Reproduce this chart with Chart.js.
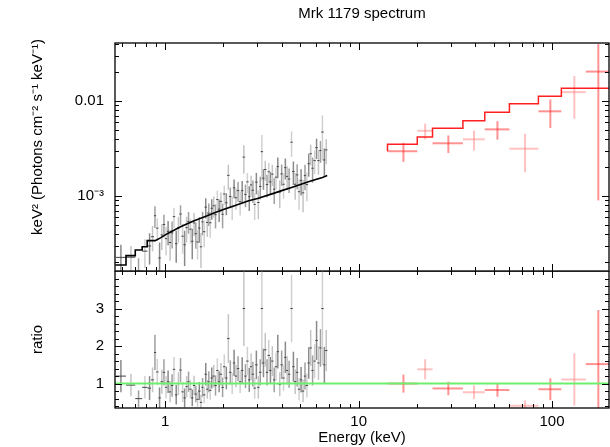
<!DOCTYPE html>
<html>
<head>
<meta charset="utf-8">
<script src="https://cdn.jsdelivr.net/npm/chart.js"></script>
<style>
  html, body { margin: 0; padding: 0; background: #fff; }
  #wrap { position: relative; width: 610px; height: 447px; }
  canvas { position: absolute; left: 0; }
</style>
</head>
<body>
<div id="wrap">
  <canvas id="specChart" width="610" height="272" style="top:0px"></canvas>
  <canvas id="ratioChart" width="610" height="176" style="top:271px"></canvas>
</div>
<script>
// ---- soft X-ray points (keV, keV^2 flux, error, ratio to model) ----
const energy = [0.59,0.665,0.728,0.785,0.83,0.86,0.885,
  0.91,0.935,0.96,0.985,1.01,1.035,1.06,1.085,1.11,1.14,1.17,1.20,1.23,1.26,1.29,
  1.32,1.35,1.38,1.41,1.44,1.47,1.50,1.53,1.56,1.59,1.62,1.65,1.68,1.71,1.74,
  1.78,1.82,1.86,1.90,1.94,1.98,2.02,2.07,2.12,2.17,2.22,2.27,2.32,2.38,2.44,
  2.50,2.55,2.60,2.66,2.72,2.78,2.84,2.90,2.96,3.03,3.10,
  3.16,3.22,3.29,3.36,3.43,3.50,3.58,3.66,3.74,3.82,3.91,4.00,4.09,4.18,4.27,
  4.37,4.50,4.60,4.70,4.81,4.92,5.04,5.16,5.28,5.40,
  5.52,5.65,5.78,5.92,6.06,6.20,6.35,6.50,6.65,6.80];
const flux = [2.26e-4,2.27e-4,1.62e-4,2.63e-4,2.98e-4,3.73e-4,6.20e-4,
  4.59e-4,2.23e-4,3.89e-4,5.01e-4,3.56e-4,4.25e-4,3.24e-4,4.09e-4,6.07e-4,3.15e-4,4.62e-4,6.46e-4,3.78e-4,3.07e-4,4.65e-4,
  5.41e-4,4.48e-4,3.34e-4,5.21e-4,4.02e-4,3.28e-4,4.60e-4,2.92e-4,5.34e-4,4.21e-4,7.64e-4,5.27e-4,6.60e-4,5.23e-4,7.44e-4,
  7.90e-4,6.37e-4,9.18e-4,7.27e-4,8.79e-4,6.43e-4,10.5e-4,8.49e-4,16.5e-4,9.88e-4,7.73e-4,12.2e-4,9.58e-4,11.4e-4,8.72e-4,
  11.4e-4,25.7e-4,10.4e-4,14.1e-4,9.82e-4,13.1e-4,11.5e-4,8.17e-4,14.0e-4,8.55e-4,12.6e-4,
  29.3e-4,15.4e-4,19.0e-4,13.2e-4,18.0e-4,14.1e-4,17.0e-4,11.8e-4,15.8e-4,20.4e-4,11.0e-4,17.1e-4,13.3e-4,19.9e-4,16.1e-4,
  15.1e-4,36.9e-4,18.1e-4,13.3e-4,16.7e-4,11.1e-4,14.6e-4,10.8e-4,16.4e-4,13.2e-4,
  21.9e-4,27.9e-4,19.6e-4,23.6e-4,32.3e-4,23.6e-4,30.1e-4,47.1e-4,24.0e-4,30.6e-4];
const fluxErr = [0.81e-4,0.71e-4,0.59e-4,0.88e-4,1.08e-4,1.12e-4,1.59e-4,
  1.23e-4,1.01e-4,1.18e-4,1.35e-4,1.19e-4,1.22e-4,1.16e-4,1.29e-4,1.45e-4,1.17e-4,1.39e-4,1.52e-4,1.31e-4,1.24e-4,1.41e-4,
  1.39e-4,1.32e-4,1.18e-4,1.42e-4,1.23e-4,1.13e-4,1.38e-4,1.17e-4,1.48e-4,1.32e-4,1.83e-4,1.55e-4,1.76e-4,1.60e-4,1.81e-4,
  1.97e-4,1.81e-4,2.18e-4,1.94e-4,2.11e-4,1.86e-4,2.39e-4,2.21e-4,4.88e-4,2.43e-4,2.16e-4,2.75e-4,2.39e-4,2.69e-4,2.49e-4,
  2.96e-4,8.55e-4,2.77e-4,3.34e-4,2.86e-4,3.26e-4,3.03e-4,2.60e-4,3.56e-4,2.85e-4,3.38e-4,
  14.7e-4,3.76e-4,4.50e-4,3.55e-4,4.33e-4,3.76e-4,4.24e-4,3.55e-4,4.14e-4,4.97e-4,3.58e-4,4.33e-4,3.93e-4,4.91e-4,4.52e-4,
  4.34e-4,11.1e-4,5.00e-4,4.17e-4,4.88e-4,3.92e-4,4.50e-4,4.04e-4,4.93e-4,4.45e-4,
  5.92e-4,6.86e-4,5.82e-4,6.64e-4,7.80e-4,6.84e-4,7.73e-4,23.6e-4,7.68e-4,8.94e-4];
const ratio = [1.20,0.96,0.60,0.90,0.88,1.10,1.83,
  1.31,0.62,1.05,1.30,0.90,1.05,0.78,0.95,1.38,0.70,1.00,1.36,0.78,0.62,0.92,
  1.05,0.85,0.62,0.95,0.72,0.58,0.80,0.50,0.90,0.70,1.25,0.85,1.05,0.82,1.15,
  1.20,0.95,1.35,1.05,1.25,0.90,1.45,1.15,2.20,1.30,1.00,1.55,1.20,1.40,1.05,
  1.35,3.00,1.20,1.60,1.10,1.45,1.25,0.88,1.50,0.90,1.30,
  3.00,1.55,1.90,1.30,1.75,1.35,1.60,1.10,1.45,1.85,0.98,1.50,1.15,1.70,1.35,
  1.25,3.00,1.45,1.05,1.30,0.85,1.10,0.80,1.20,0.95,
  1.55,1.95,1.35,1.60,2.15,1.55,1.95,3.00,1.50,1.88];
const ratioErr = [0.43,0.30,0.22,0.30,0.32,0.33,0.47,
  0.35,0.28,0.32,0.35,0.30,0.30,0.28,0.30,0.33,0.26,0.30,0.32,0.27,0.25,0.28,
  0.27,0.25,0.22,0.26,0.22,0.20,0.24,0.20,0.25,0.22,0.30,0.25,0.28,0.25,0.28,
  0.30,0.27,0.32,0.28,0.30,0.26,0.33,0.30,0.65,0.32,0.28,0.35,0.30,0.33,0.30,
  0.35,1.00,0.32,0.38,0.32,0.36,0.33,0.28,0.38,0.30,0.35,
  1.50,0.38,0.45,0.35,0.42,0.36,0.40,0.33,0.38,0.45,0.32,0.38,0.34,0.42,0.38,
  0.36,0.90,0.40,0.33,0.38,0.30,0.34,0.30,0.36,0.32,
  0.42,0.48,0.40,0.45,0.52,0.45,0.50,1.50,0.48,0.55];
// the first few low-energy bins are wide enough to show their extent
const wideBinLo = [0.556,0.627,0.70,0.76,0.81,0.845,0.875];
const wideBinHi = [0.627,0.70,0.76,0.81,0.845,0.875,0.898];

// soft-band model curve
const modelE = [0.552,0.627,0.627,0.70,0.70,0.76,0.76,0.807,0.807,0.888,0.95,1.0,1.06,1.2,1.4,1.6,1.8,2.0,2.3,2.7,3.0,3.6,4.0,4.5,5.0,5.5,6.0,6.5,6.88];
const modelFlux = [1.88e-4,1.88e-4,2.36e-4,2.36e-4,2.70e-4,2.70e-4,2.92e-4,2.92e-4,3.39e-4,3.39e-4,3.65e-4,3.9e-4,4.15e-4,4.75e-4,5.45e-4,6.05e-4,6.65e-4,7.2e-4,7.95e-4,8.9e-4,9.4e-4,1.06e-3,1.14e-3,1.23e-3,1.32e-3,1.41e-3,1.49e-3,1.57e-3,1.64e-3];

// ---- hard X-ray (BAT) points and model ----
const batE = [17.05,22.07,29.1,39.5,52.2,72.5,98,130.4,173.5];
const batLo = [14.1,20.1,24.1,34.6,44.9,60.2,85,111.7,149.4];
const batHi = [20.1,24.1,34.6,44.9,60.2,85,111.7,149.4,197];
const batFlux = [2.96e-3,4.86e-3,3.59e-3,3.95e-3,5.03e-3,3.15e-3,7.79e-3,1.24e-2,2.04e-2];
const batFluxErr = [0.67e-3,0.92e-3,0.75e-3,0.94e-3,1.11e-3,1.37e-3,2.58e-3,5.9e-3,1.95e-2];
const batRatio = [1.00,1.38,0.87,0.77,0.83,0.41,0.85,1.11,1.52];
const batRatioErr = [0.24,0.27,0.18,0.18,0.18,0.14,0.29,0.70,1.44];
const batModel = [2.96e-3,3.50e-3,4.18e-3,5.16e-3,6.21e-3,7.6e-3,9.37e-3,1.12e-2,1.36e-2];

// ---- axes ----
const xRange = [0.55, 197];
const fluxRange = [1.625e-4, 0.0408];
const ratioRange = [0.35, 4.0];
const xMajor = [1, 10, 100];
const xLabels = ['1', '10', '100'];
const xMinor = [0.6,0.7,0.8,0.9,2,3,4,5,6,7,8,9,20,30,40,50,60,70,80,90];
const fluxMajor = [1e-3, 1e-2];
const fluxLabels = ['10\u207B\u00B3', '0.01'];
const fluxMinor = [2e-4,3e-4,4e-4,5e-4,6e-4,7e-4,8e-4,9e-4,2e-3,3e-3,4e-3,5e-3,6e-3,7e-3,8e-3,9e-3,2e-2,3e-2,4e-2];
const ratioMajor = [1, 2, 3];
const ratioLabels = ['1', '2', '3'];
const ratioMinor = [0.4,0.6,0.8,1.2,1.4,1.6,1.8,2.2,2.4,2.6,2.8,3.2,3.4,3.6,3.8];

Chart.defaults.font.family = "'Liberation Sans', Arial, sans-serif";
Chart.defaults.font.size = 15;
Chart.defaults.color = '#000';

const greys = ['#8a8a8a', '#c4c4c4', '#a0a0a0', '#d0d0d0'];
const reds = ['rgba(255,40,40,0.5)', 'rgba(255,120,120,0.45)'];

// error bars drawn from dataset values through the chart scales
const errorBars = {
  id: 'errorBars',
  beforeDatasetsDraw(chart) {
    const { ctx, chartArea: a } = chart;
    const xs = chart.scales.x, ys = chart.scales.y;
    ctx.save();
    ctx.beginPath();
    ctx.rect(a.left, a.top, a.right - a.left, a.bottom - a.top);
    ctx.clip();
    chart.data.datasets.forEach(ds => {
      if (!ds.yErr) return;
      ds.data.forEach((p, i) => {
        const px = xs.getPixelForValue(p.x);
        const py = ys.getPixelForValue(p.y);
        const lo = p.y - ds.yErr[i];
        const yTop = ys.getPixelForValue(p.y + ds.yErr[i]);
        const yBot = lo > 0 ? ys.getPixelForValue(lo) : a.bottom + 10;
        ctx.strokeStyle = ds.barColors[i % ds.barColors.length];
        ctx.lineWidth = ds.barWidth;
        ctx.beginPath();
        ctx.moveTo(px, yTop);
        ctx.lineTo(px, yBot);
        ctx.stroke();
        let x0 = px - 1.2, x1 = px + 1.2;
        if (ds.xLo && ds.xLo[i] !== undefined) {
          x0 = xs.getPixelForValue(ds.xLo[i]);
          x1 = xs.getPixelForValue(ds.xHi[i]);
        }
        if (ds.centerColor) ctx.strokeStyle = ds.centerColor;
        ctx.lineWidth = ds.centerWidth || ds.barWidth;
        ctx.beginPath();
        ctx.moveTo(x0, py);
        ctx.lineTo(x1, py);
        ctx.stroke();
      });
    });
    ctx.restore();
  }
};

// frame with inward ticks on all four sides
const frameTicks = {
  id: 'frameTicks',
  afterDraw(chart, args, o) {
    const { ctx, chartArea: a } = chart;
    const xs = chart.scales.x, ys = chart.scales.y;
    ctx.save();
    ctx.strokeStyle = '#000';
    ctx.lineWidth = 1;
    const xt = (vals, len) => vals.forEach(v => {
      const px = Math.round(xs.getPixelForValue(v)) + 0.5;
      if (px < a.left || px > a.right) return;
      ctx.beginPath();
      ctx.moveTo(px, a.bottom); ctx.lineTo(px, a.bottom - len);
      ctx.moveTo(px, a.top); ctx.lineTo(px, a.top + len);
      ctx.stroke();
    });
    const yt = (vals, len) => vals.forEach(v => {
      const py = Math.round(ys.getPixelForValue(v)) + 0.5;
      if (py < a.top || py > a.bottom) return;
      ctx.beginPath();
      ctx.moveTo(a.left, py); ctx.lineTo(a.left + len, py);
      ctx.moveTo(a.right, py); ctx.lineTo(a.right - len, py);
      ctx.stroke();
    });
    xt(xMajor, 7); xt(xMinor, 4);
    yt(o.major, 7); yt(o.minor, 4);
    ctx.lineWidth = 1.3;
    ctx.strokeRect(a.left, a.top, a.right - a.left, a.bottom - a.top);
    ctx.restore();
  }
};

// rotated y title of the spectrum panel
const sideLabel = {
  id: 'sideLabel',
  afterDraw(chart, args, o) {
    const ctx = chart.ctx;
    ctx.save();
    ctx.translate(o.x, o.y);
    ctx.rotate(-Math.PI / 2);
    ctx.font = "15px 'Liberation Sans', Arial, sans-serif";
    ctx.fillStyle = '#000';
    ctx.textAlign = 'center';
    ctx.textBaseline = 'middle';
    ctx.fillText(o.text, 0, 0);
    ctx.restore();
  }
};

// keep the plot areas where the reference has them
const noPad = s => { s.paddingTop = 0; s.paddingBottom = 0; s.paddingLeft = 0; s.paddingRight = 0; };

const pts = (xv, yv) => xv.map((x, i) => ({ x: x, y: yv[i] }));

new Chart(document.getElementById('specChart'), {
  type: 'scatter',
  data: {
    datasets: [
      { data: pts(energy, flux), yErr: fluxErr, xLo: wideBinLo, xHi: wideBinHi,
        barColors: greys, barWidth: 1.5, centerColor: '#444', centerWidth: 1, pointRadius: 0 },
      { data: pts(batE, batFlux), yErr: batFluxErr, xLo: batLo, xHi: batHi,
        barColors: reds, barWidth: 2, pointRadius: 0 },
      { type: 'line', data: pts(modelE, modelFlux), borderColor: '#000', borderWidth: 1.6,
        pointRadius: 0, tension: 0, fill: false },
      { type: 'line', data: pts(batLo.concat([batHi[batHi.length - 1]]), batModel.concat([batModel[batModel.length - 1]])),
        borderColor: '#ff2020', borderWidth: 1.5, stepped: 'after', pointRadius: 0, fill: false }
    ]
  },
  options: {
    responsive: false,
    animation: false,
    devicePixelRatio: 1,
    layout: { padding: { top: 0, right: 1, bottom: 1, left: 0 } },
    plugins: {
      legend: { display: false },
      tooltip: { enabled: false },
      title: { display: true, text: 'Mrk 1179 spectrum', fullSize: false,
        font: { size: 15, weight: 'normal' }, color: '#000', padding: { top: 5, bottom: 20 } },
      frameTicks: { major: fluxMajor, minor: fluxMinor },
      sideLabel: { text: 'keV\u00B2 (Photons cm\u207B\u00B2 s\u207B\u00B9 keV\u207B\u00B9)', x: 38, y: 137 }
    },
    scales: {
      x: { type: 'logarithmic', min: xRange[0], max: xRange[1], display: false, afterFit: noPad },
      y: {
        type: 'logarithmic', min: fluxRange[0], max: fluxRange[1], position: 'left',
        afterFit: s => { s.width = 115; noPad(s); },
        afterBuildTicks: s => { s.ticks = fluxMajor.map(v => ({ value: v })); },
        grid: { display: false, drawTicks: false },
        border: { display: false },
        ticks: { autoSkip: false, padding: 11, callback: (v, i) => fluxLabels[i] }
      }
    }
  },
  plugins: [errorBars, frameTicks, sideLabel]
});

new Chart(document.getElementById('ratioChart'), {
  type: 'scatter',
  data: {
    datasets: [
      { data: pts(energy, ratio), yErr: ratioErr, xLo: wideBinLo, xHi: wideBinHi,
        barColors: greys, barWidth: 1.5, centerColor: '#444', centerWidth: 1, pointRadius: 0 },
      { data: pts(batE, batRatio), yErr: batRatioErr, xLo: batLo, xHi: batHi,
        barColors: reds, barWidth: 2, pointRadius: 0 },
      { type: 'line', data: pts(xRange, [1, 1]), borderColor: '#6cf06c', borderWidth: 2,
        pointRadius: 0, fill: false }
    ]
  },
  options: {
    responsive: false,
    animation: false,
    devicePixelRatio: 1,
    layout: { padding: { top: 0, right: 1, bottom: 0, left: 0 } },
    plugins: {
      legend: { display: false },
      tooltip: { enabled: false },
      frameTicks: { major: ratioMajor, minor: ratioMinor }
    },
    scales: {
      x: {
        type: 'logarithmic', min: xRange[0], max: xRange[1], position: 'bottom',
        afterFit: s => { s.height = 39; noPad(s); },
        afterBuildTicks: s => { s.ticks = xMajor.map(v => ({ value: v })); },
        grid: { display: false, drawTicks: false },
        border: { display: false },
        ticks: { autoSkip: false, maxRotation: 0, padding: 5, callback: (v, i) => xLabels[i] },
        title: { display: true, text: 'Energy (keV)', padding: { top: 0, bottom: 0 } }
      },
      y: {
        type: 'linear', min: ratioRange[0], max: ratioRange[1], position: 'left',
        afterFit: s => { s.width = 115; noPad(s); },
        afterBuildTicks: s => { s.ticks = ratioMajor.map(v => ({ value: v })); },
        grid: { display: false, drawTicks: false },
        border: { display: false },
        ticks: { autoSkip: false, padding: 11, callback: (v, i) => ratioLabels[i] },
        title: { display: true, text: 'ratio', padding: { top: 29, bottom: 0 } }
      }
    }
  },
  plugins: [errorBars, frameTicks]
});
</script>
</body>
</html>
